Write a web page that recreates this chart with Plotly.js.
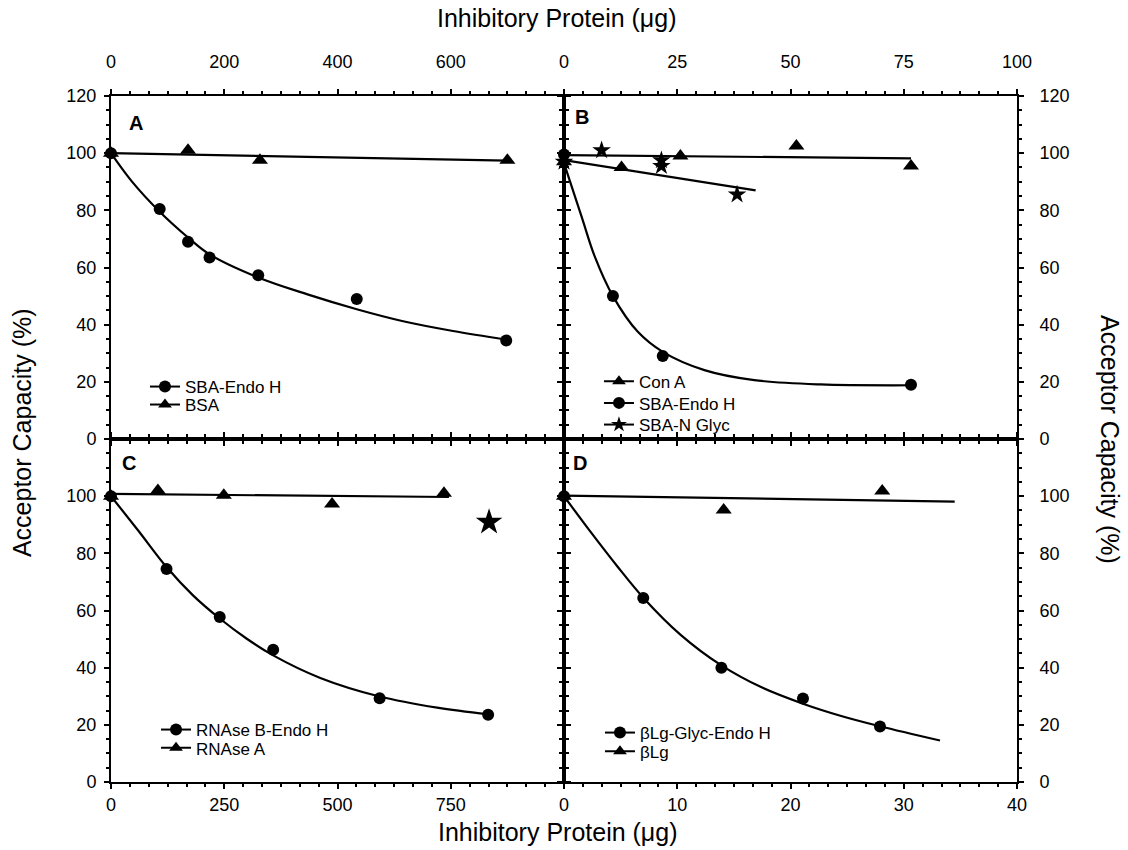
<!DOCTYPE html>
<html>
<head>
<meta charset="utf-8">
<script src="https://cdn.plot.ly/plotly-3.0.1.min.js"></script>
<style>body{margin:0;background:#fff}#chart{width:1128px;height:850px}</style>
</head>
<body>
<div id="chart"></div>
<script>
// ---------- Panel A (top x: 0-800 µg) ----------
const A_endo_x = [0, 86, 136, 174, 260, 434, 698];
const A_endo_y = [100, 80.5, 69, 63.5, 57.3, 49, 34.5];
const A_endo_fit_x = [0, 36, 86, 136, 174, 260, 347, 434, 514, 604, 698];
const A_endo_fit_y = [100, 90.3, 79.5, 70.5, 64.6, 56.5, 50.6, 45.4, 41.3, 37.8, 34.8];
const A_bsa_x = [0, 136, 263, 700];
const A_bsa_y = [100, 101, 97.5, 97.5];
const A_bsa_fit_x = [0, 700];
const A_bsa_fit_y = [100, 97.4];

// ---------- Panel B (top x: 0-100 µg) ----------
const B_cona_x = [0, 12.7, 25.7, 51.3, 76.6];
const B_cona_y = [97, 95, 99, 102.5, 95.5];
const B_cona_fit_x = [0, 76.6];
const B_cona_fit_y = [99.3, 98.2];
const B_endo_x = [0, 10.8, 21.8, 76.6];
const B_endo_y = [99.5, 50, 29, 19];
const B_endo_fit_x = [0, 3.9, 6.8, 10.8, 16.3, 21.8, 31, 42, 56.6, 76.6];
const B_endo_fit_y = [96.5, 77.7, 63.8, 50, 37.5, 30.5, 24.1, 20.6, 19.1, 18.8];
const B_nglyc_x = [0, 8.3, 21.5, 21.5, 38.2];
const B_nglyc_y = [97, 101, 97.5, 95.5, 85.5];
const B_nglyc_fit_x = [0, 42.3];
const B_nglyc_fit_y = [97.6, 87];

// ---------- Panel C (bottom x: 0-1000 µg) ----------
const C_endo_x = [0, 122.6, 240, 358, 593, 832.5];
const C_endo_y = [100, 74.5, 57.7, 46.3, 29.3, 23.5];
const C_endo_fit_x = [0, 60, 122.6, 181, 240, 299, 358, 462, 593, 720, 832.5];
const C_endo_fit_y = [100, 88, 75.2, 65.3, 57.2, 50.2, 44.3, 36.4, 29.9, 26, 23.7];
const C_rnasea_x = [0, 103.5, 249, 488, 735];
const C_rnasea_y = [100, 102, 100.3, 97.3, 101];
const C_rnasea_fit_x = [0, 746];
const C_rnasea_fit_y = [100.8, 99.7];
const C_star_x = [834.6];
const C_star_y = [90.9];

// ---------- Panel D (bottom x: 0-40 µg) ----------
const D_endo_x = [0, 7.0, 13.9, 21.1, 27.9];
const D_endo_y = [100, 64.4, 40, 29.2, 19.4];
const D_endo_fit_x = [0, 2.35, 4.7, 7.0, 10.3, 13.9, 17.4, 21.1, 24.4, 27.9, 33.2];
const D_endo_fit_y = [100, 87.5, 75.5, 64.5, 51.5, 40.8, 33.2, 27.4, 23.2, 19.5, 14.5];
const D_blg_x = [0, 14.1, 28.1];
const D_blg_y = [100, 95.2, 101.8];
const D_blg_fit_x = [0, 34.5];
const D_blg_fit_y = [100.2, 98.1];

// ---------- tick labels ----------
const A_xticks = [0, 200, 400, 600, 800];
const A_xlabels = ['0', '200', '400', '600', ''];
const B_xticks = [0, 25, 50, 75, 100];
const B_xlabels = ['0', '25', '50', '75', '100'];
const C_xticks = [0, 250, 500, 750, 1000];
const C_xlabels = ['0', '250', '500', '750', ''];
const D_xticks = [0, 10, 20, 30, 40];
const D_xlabels = ['0', '10', '20', '30', '40'];
const Y_ticks = [0, 20, 40, 60, 80, 100, 120];
const Y_top_labels = ['0', '20', '40', '60', '80', '100', '120'];
const Y_bot_labels = ['0', '20', '40', '60', '80', '100', ''];

// ---------- legend names ----------
const A_names = ['SBA-Endo H', 'BSA'];
const B_names = ['Con A', 'SBA-Endo H', 'SBA-N Glyc'];
const C_names = ['RNAse B-Endo H', 'RNAse A'];
const D_names = ['βLg-Glyc-Endo H', 'βLg'];

const FONT = 'Liberation Sans, Arial, Helvetica, sans-serif';
const K = '#000';

function pts(x, y, xa, ya, symbol, size) {
  return {x: x, y: y, xaxis: xa, yaxis: ya, mode: 'markers', type: 'scatter',
    marker: {symbol: symbol, size: size, color: K}, showlegend: false, cliponaxis: false, hoverinfo: 'skip'};
}
function fit(x, y, xa, ya, spline) {
  return {x: x, y: y, xaxis: xa, yaxis: ya, mode: 'lines', type: 'scatter',
    line: {color: K, width: 2.2, shape: spline ? 'spline' : 'linear', smoothing: 1},
    showlegend: false, cliponaxis: false, hoverinfo: 'skip'};
}
function leg(name, symbol, legendId) {
  return {x: [null], y: [null], mode: 'lines+markers', type: 'scatter', name: name,
    line: {color: K, width: 2}, marker: {symbol: symbol, size: 12, color: K},
    legend: legendId, showlegend: true};
}

const traces = [
  fit(A_endo_fit_x, A_endo_fit_y, 'x', 'y', true),
  fit(A_bsa_fit_x, A_bsa_fit_y, 'x', 'y', false),
  pts(A_endo_x, A_endo_y, 'x', 'y', 'circle', 12),
  pts(A_bsa_x, A_bsa_y, 'x', 'y', 'triangle-up', 14),

  fit(B_endo_fit_x, B_endo_fit_y, 'x2', 'y2', true),
  fit(B_cona_fit_x, B_cona_fit_y, 'x2', 'y2', false),
  fit(B_nglyc_fit_x, B_nglyc_fit_y, 'x2', 'y2', false),
  pts(B_cona_x, B_cona_y, 'x2', 'y2', 'triangle-up', 14),
  pts(B_nglyc_x, B_nglyc_y, 'x2', 'y2', 'star', 14),
  pts(B_endo_x, B_endo_y, 'x2', 'y2', 'circle', 12),

  fit(C_endo_fit_x, C_endo_fit_y, 'x3', 'y3', true),
  fit(C_rnasea_fit_x, C_rnasea_fit_y, 'x3', 'y3', false),
  pts(C_endo_x, C_endo_y, 'x3', 'y3', 'circle', 12),
  pts(C_rnasea_x, C_rnasea_y, 'x3', 'y3', 'triangle-up', 14),
  pts(C_star_x, C_star_y, 'x3', 'y3', 'star', 20),

  fit(D_endo_fit_x, D_endo_fit_y, 'x4', 'y4', true),
  fit(D_blg_fit_x, D_blg_fit_y, 'x4', 'y4', false),
  pts(D_endo_x, D_endo_y, 'x4', 'y4', 'circle', 12),
  pts(D_blg_x, D_blg_y, 'x4', 'y4', 'triangle-up', 14),

  leg(A_names[0], 'circle', 'legend'),
  leg(A_names[1], 'triangle-up', 'legend2'),
  leg(B_names[0], 'triangle-up', 'legend3'),
  leg(B_names[1], 'circle', 'legend4'),
  leg(B_names[2], 'star', 'legend5'),
  leg(C_names[0], 'circle', 'legend6'),
  leg(C_names[1], 'triangle-up', 'legend7'),
  leg(D_names[0], 'circle', 'legend8'),
  leg(D_names[1], 'triangle-up', 'legend9')
];

function xax(domain, anchor, side, range, tv, tt, minorStep, standoff) {
  return {domain: domain, anchor: anchor, side: side, range: range,
    tickmode: 'array', tickvals: tv, ticktext: tt,
    showline: true, linewidth: 2, linecolor: K, mirror: 'ticks',
    ticks: 'outside', ticklen: 5, tickwidth: 2, tickcolor: K,
    minor: {tickmode: 'linear', tick0: 0, dtick: minorStep, ticks: 'outside', ticklen: 3, tickwidth: 2, tickcolor: K, showgrid: false},
    showgrid: false, zeroline: false, fixedrange: true,
    ticklabelstandoff: standoff,
    tickfont: {family: FONT, size: 18, color: K}};
}
function yax(domain, anchor, side, labels, standoff) {
  return {domain: domain, anchor: anchor, side: side, range: [0, 120],
    tickmode: 'array', tickvals: Y_ticks, ticktext: labels,
    showline: true, linewidth: 2, linecolor: K, mirror: 'ticks',
    ticks: 'outside', ticklen: 5, tickwidth: 2, tickcolor: K,
    minor: {tickmode: 'linear', tick0: 0, dtick: 5, ticks: 'outside', ticklen: 3, tickwidth: 2, tickcolor: K, showgrid: false},
    showgrid: false, zeroline: false, fixedrange: true,
    ticklabelstandoff: standoff,
    tickfont: {family: FONT, size: 18, color: K}};
}

function legPos(x, y) {
  return {x: x, y: y, xanchor: 'left', yanchor: 'middle', bgcolor: 'rgba(0,0,0,0)',
    borderwidth: 0, font: {family: FONT, size: 17, color: K}, itemclick: false, itemdoubleclick: false};
}

function ann(text, x, y, size, bold, angle) {
  return {text: bold ? '<b>' + text + '</b>' : text, x: x, y: y, xref: 'paper', yref: 'paper',
    showarrow: false, xanchor: 'center', yanchor: 'middle', textangle: angle || 0,
    font: {family: FONT, size: size, color: K}};
}

const layout = {
  width: 1128, height: 850,
  margin: {l: 111, r: 111, t: 96, b: 68},
  paper_bgcolor: '#fff', plot_bgcolor: '#fff',
  font: {family: FONT, color: K},
  xaxis: xax([0, 0.5], 'y', 'top', [0, 800], A_xticks, A_xlabels, 200 / 6, 14),
  yaxis: yax([0.5, 1], 'x', 'left', Y_top_labels, 4),
  xaxis2: xax([0.5, 1], 'y2', 'top', [0, 100], B_xticks, B_xlabels, 25 / 6, 14),
  yaxis2: yax([0.5, 1], 'x2', 'right', Y_top_labels, 12),
  xaxis3: xax([0, 0.5], 'y3', 'bottom', [0, 1000], C_xticks, C_xlabels, 250 / 6, 0),
  yaxis3: yax([0, 0.5], 'x3', 'left', Y_bot_labels, 4),
  xaxis4: xax([0.5, 1], 'y4', 'bottom', [0, 40], D_xticks, D_xlabels, 10 / 6, 0),
  yaxis4: yax([0, 0.5], 'x4', 'right', Y_bot_labels, 12),
  legend: legPos(0.0375, 0.5758),
  legend2: legPos(0.0375, 0.5496),
  legend3: legPos(0.5386, 0.5835),
  legend4: legPos(0.5386, 0.552),
  legend5: legPos(0.5386, 0.5204),
  legend6: legPos(0.0497, 0.0758),
  legend7: legPos(0.0497, 0.0491),
  legend8: legPos(0.5397, 0.0714),
  legend9: legPos(0.5397, 0.0442),
  annotations: [
    ann('Inhibitory Protein (μg)', 0.492, 1.1137, 25, false),
    ann('Inhibitory Protein (μg)', 0.493, -0.0729, 25, false),
    ann('Acceptor Capacity (%)', -0.0982, 0.5087, 25, false, -90),
    ann('Acceptor Capacity (%)', 1.1026, 0.4985, 25, false, 90),
    ann('A', 0.0276, 0.9606, 20, true),
    ann('B', 0.5199, 0.9694, 20, true),
    ann('C', 0.0199, 0.465, 20, true),
    ann('D', 0.5177, 0.465, 20, true)
  ],
  showlegend: true
};

Plotly.newPlot('chart', traces, layout, {displayModeBar: false, staticPlot: true});
</script>
</body>
</html>
